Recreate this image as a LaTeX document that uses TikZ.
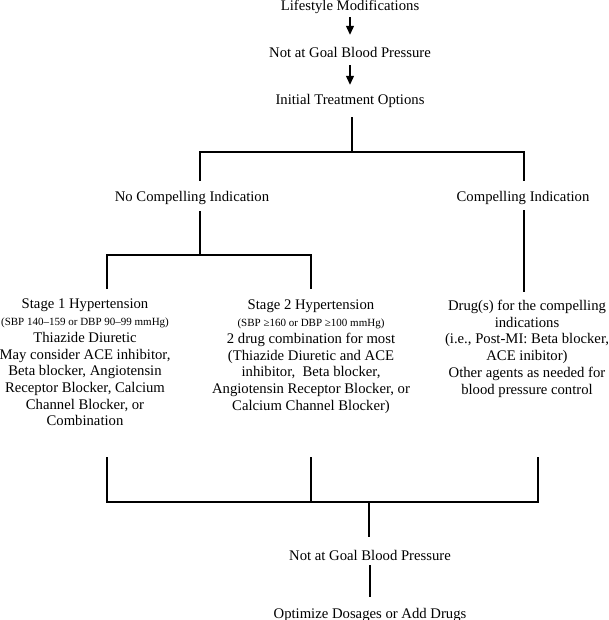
\documentclass[tikz,border=0pt]{standalone}
\usepackage{fontspec}
\setmainfont{Liberation Serif}
\usetikzlibrary{arrows.meta}

\tikzset{
  txt/.style={inner sep=0pt, align=center, font=\fontsize{14.7}{16.7}\selectfont},
  one/.style={txt, anchor=base, text height=10pt, text depth=3pt},
  link/.style={line width=1.2pt},
  arr/.style={link, -{Triangle[width=8pt,length=9pt]}}
}
\newcommand{\smalltxt}{\fontsize{11}{12.5}\selectfont}

\begin{document}
\begin{tikzpicture}[x=1pt, y=-1pt]

\useasboundingbox (0,0) rectangle (608,620);

\node[one] (life) at (350,11) {Lifestyle Modifications};
\node[one] (goal1) at (350,58) {Not at Goal Blood Pressure};
\node[one] (init) at (350,105) {Initial Treatment Options};

\node[one] (nocomp) at (192,201) {No Compelling Indication};
\node[one] (comp) at (523,202) {Compelling Indication};

\node[txt, anchor=north] (st1) at (85,299) {Stage 1 Hypertension\\
  {\smalltxt (SBP 140–159 or DBP 90–99 mmHg)}\\
  Thiazide Diuretic\\
  May consider ACE inhibitor,\\
  Beta blocker, Angiotensin\\
  Receptor Blocker, Calcium\\
  Channel Blocker, or\\
  Combination};
\node[txt, anchor=north] (st2) at (311,300) {Stage 2 Hypertension\\
  {\smalltxt (SBP ≥160 or DBP ≥100 mmHg)}\\
  2 drug combination for most\\
  (Thiazide Diuretic and ACE\\
  inhibitor, \ Beta blocker,\\
  Angiotensin Receptor Blocker, or\\
  Calcium Channel Blocker)};
\node[txt, anchor=north] (drugs) at (527,300) {Drug(s) for the compelling\\
  indications\\
  (i.e., Post-MI: Beta blocker,\\
  ACE inibitor)\\
  Other agents as needed for\\
  blood pressure control};

\node[one] (goal2) at (370,560) {Not at Goal Blood Pressure};
\node[one] (opt) at (370,618) {Optimize Dosages or Add Drugs};

% branch points
\coordinate (top) at (352,152);
\coordinate (ja) at (200,152);
\coordinate (jb) at (524,152);
\coordinate (jc) at (200,255);
\coordinate (s1j) at (107,255);
\coordinate (s2j) at (311,255);
\coordinate (u1) at (107,457);
\coordinate (u2) at (311,457);
\coordinate (u3) at (538,457);
\coordinate (k1) at (107,502);
\coordinate (k2) at (311,502);
\coordinate (k3) at (538,502);
\coordinate (k0) at (369,502);

\draw[arr, shorten <=3pt, shorten >=13pt] (life.south) -- (goal1.north);
\draw[arr, shorten <=4pt, shorten >=10pt] (goal1.south) -- (init.north);

\draw[link, shorten <=9pt] (init.south -| top) -- (top);
\draw[link, shorten <=10pt, shorten >=11pt] (ja |- nocomp.north) -- (ja) -- (jb) -- (jb |- comp.north);

\draw[link, shorten <=7pt] (nocomp.south -| jc) -- (jc);
\draw[link, shorten <=10pt, shorten >=11pt] (s1j |- st1.north) -- (s1j) -- (s2j) -- (s2j |- st2.north);
\draw[link, shorten <=5pt, shorten >=8pt] (comp.south -| jb) -- (jb |- drugs.north);

\draw[link] (u1) -- (k1) -- (k3) -- (u3);
\draw[link] (u2) -- (k2);
\draw[link, shorten >=13pt] (k0) -- (k0 |- goal2.north);
\draw[link, shorten <=2pt, shorten >=11pt] (goal2.south) -- (opt.north);

\end{tikzpicture}
\end{document}
